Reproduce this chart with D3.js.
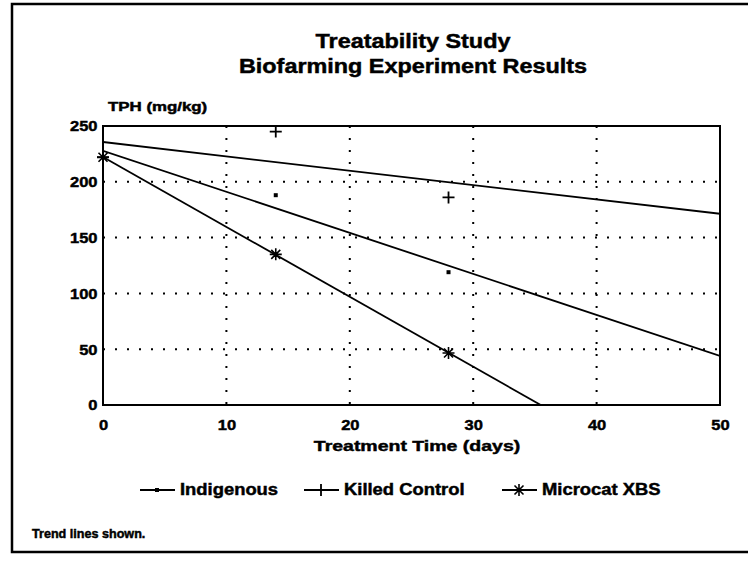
<!DOCTYPE html>
<html><head><meta charset="utf-8">
<script src="https://cdn.jsdelivr.net/npm/d3@7"></script>
<style>
body{margin:0;background:#fff;}
text{font-family:"Liberation Sans",Arial,sans-serif;font-weight:bold;fill:#000;stroke:#000;stroke-width:0.45px;}
</style></head>
<body><svg id="c" width="748" height="565"></svg>
<script>
const days = [0, 14, 28];
const indigenous = [222, 188, 119];
const killedControl = [222, 245, 186];
const microcat = [222, 135, 46.6];
const seriesNames = ["Indigenous", "Killed Control", "Microcat XBS"];
const xTicks = [0, 10, 20, 30, 40, 50];
const yTicks = [0, 50, 100, 150, 200, 250];

const svg = d3.select("#c");
const L = 103, R = 720, T = 126, B = 405;
const x = d3.scaleLinear().domain([0, 50]).range([L, R]);
const y = d3.scaleLinear().domain([0, 250]).range([B, T]);

function stext(px, py, str, size, sx, anchor) {
  return svg.append("text").attr("transform", `translate(${px},${py}) scale(${sx},1)`)
    .attr("text-anchor", anchor || "start").attr("font-size", size).text(str);
}

// outer frame
svg.append("rect").attr("x", 12).attr("y", 4).attr("width", 760).attr("height", 548)
  .attr("fill", "none").attr("stroke", "#000").attr("stroke-width", 2.5);

// titles
stext(413, 48, "Treatability Study", 19.5, 1.2, "middle");
stext(413, 73, "Biofarming Experiment Results", 19.5, 1.2, "middle");

// grid
const g = svg.append("g");
g.selectAll(".hg").data(yTicks.filter(d => d > 0 && d < 250)).join("line")
  .attr("x1", L).attr("x2", R).attr("y1", d => y(d)).attr("y2", d => y(d))
  .attr("stroke", "#000").attr("stroke-width", 2).attr("stroke-dasharray", "2,10");
g.selectAll(".vg").data(xTicks.filter(d => d > 0 && d < 50)).join("line")
  .attr("y1", T).attr("y2", B).attr("x1", d => x(d)).attr("x2", d => x(d))
  .attr("stroke", "#000").attr("stroke-width", 2).attr("stroke-dasharray", "2,10");

// axes
const xa = svg.append("g").attr("transform", `translate(0,${B})`)
  .call(d3.axisBottom(x).tickValues(xTicks).tickSize(0).tickPadding(14));
const ya = svg.append("g").attr("transform", `translate(${L},0)`)
  .call(d3.axisLeft(y).tickValues(yTicks).tickSize(0).tickPadding(5));
[xa, ya].forEach(a => {
  a.select(".domain").remove();
  a.selectAll("text").attr("font-size", 15).attr("font-family", "Liberation Sans, Arial, sans-serif")
    .attr("font-weight", "bold").attr("transform", "scale(1.1,1)");
});
svg.append("rect").attr("x", L).attr("y", T).attr("width", R - L).attr("height", B - T)
  .attr("fill", "none").attr("stroke", "#000").attr("stroke-width", 2);

stext(108, 111, "TPH (mg/kg)", 12.5, 1.35, "start");
stext(417, 451, "Treatment Time (days)", 15, 1.3, "middle");

// regression trend lines
function fit(xs, ys) {
  const mx = d3.mean(xs), my = d3.mean(ys);
  const s = d3.sum(xs, (v, i) => (v - mx) * (ys[i] - my)) / d3.sum(xs, v => (v - mx) ** 2);
  return { a: my - s * mx, b: s };
}
svg.append("clipPath").attr("id", "pc").append("rect")
  .attr("x", L).attr("y", T).attr("width", R - L).attr("height", B - T);
const allSeries = [indigenous, killedControl, microcat];
allSeries.forEach(vals => {
  const f = fit(days, vals);
  let x2 = 50, y2 = f.a + f.b * 50;
  if (y2 < 0) { x2 = -f.a / f.b; y2 = 0; }
  svg.append("line").attr("x1", x(0)).attr("y1", y(f.a)).attr("x2", x(x2)).attr("y2", y(y2))
    .attr("stroke", "#000").attr("stroke-width", 1.8).attr("clip-path", "url(#pc)");
});

// markers
function marker(sel, type, cx, cy) {
  const gg = sel.append("g").attr("transform", `translate(${cx},${cy})`);
  if (type === 0) {
    gg.append("rect").attr("x", -2).attr("y", -2).attr("width", 4).attr("height", 4).attr("fill", "#000");
  } else if (type === 1) {
    gg.append("path").attr("d", "M-6,0H6M0,-6V6").attr("stroke", "#000").attr("stroke-width", 1.8);
  } else {
    gg.append("path").attr("d", "M-6,0H6M0,-6V6M-4.5,-4.5L4.5,4.5M-4.5,4.5L4.5,-4.5")
      .attr("stroke", "#000").attr("stroke-width", 1.6);
  }
}
allSeries.forEach((vals, si) => {
  vals.forEach((v, i) => marker(svg, si, x(days[i]), y(v)));
});

// legend
const legendX = [140, 304, 502];
seriesNames.forEach((n, i) => {
  const lx = legendX[i], ly = 490;
  svg.append("line").attr("x1", lx).attr("x2", lx + 35).attr("y1", ly).attr("y2", ly)
    .attr("stroke", "#000").attr("stroke-width", 1.8);
  marker(svg, i, lx + 17, ly);
  stext(lx + 40, 495, n, 16, 1.15, "start");
});

stext(32, 538, "Trend lines shown.", 12, 1.05, "start");
</script></body></html>
